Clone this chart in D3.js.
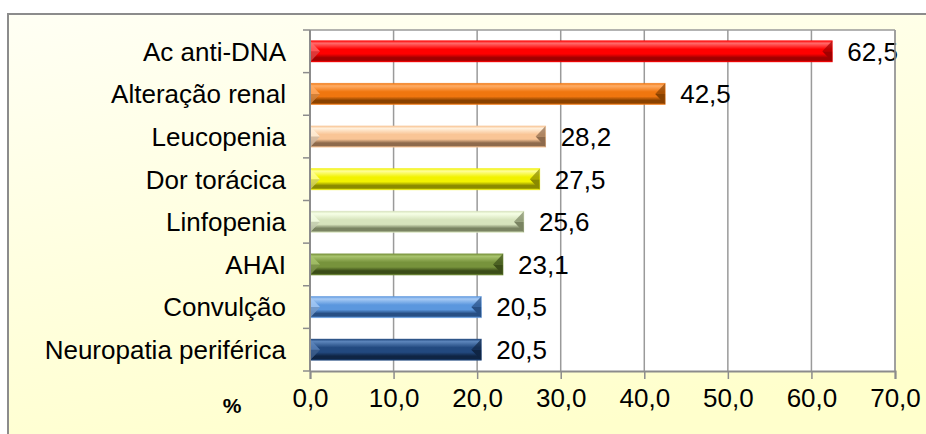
<!DOCTYPE html>
<html>
<head>
<meta charset="utf-8">
<script src="https://cdn.jsdelivr.net/npm/d3@7"></script>
<style>
  html, body { margin: 0; padding: 0; background: #ffffff; }
  svg { display: block; font-family: "Liberation Sans", Arial, sans-serif; }
</style>
</head>
<body>
<svg id="chart" width="926" height="434"></svg>
<script>
// Frequência das manifestações (%)
const categories = ["Ac anti-DNA", "Alteração renal", "Leucopenia", "Dor torácica",
                    "Linfopenia", "AHAI", "Convulção", "Neuropatia periférica"];
const values = [62.5, 42.5, 28.2, 27.5, 25.6, 23.1, 20.5, 20.5];
const tickValues = [0, 10, 20, 30, 40, 50, 60, 70];
const axisTitle = "%";

// Bar palette: [light, base, dark]
const palette = [
  ["#ff6b6b", "#ff0000", "#a00000"],
  ["#ffad66", "#f0760f", "#8a4200"],
  ["#fff0dc", "#f9c596", "#8e6a4c"],
  ["#ffff9a", "#f2f200", "#8a8a00"],
  ["#f6ffe6", "#d7e4bd", "#7a8462"],
  ["#a9c46e", "#77933c", "#3b4d18"],
  ["#a8cbf5", "#5b97de", "#274f84"],
  ["#5c85bb", "#22497f", "#0f2544"]
];

const svg = d3.select("#chart");
const W = 926, H = 434;
const plot = { left: 310, right: 895, top: 30, bottom: 371 };

const defs = svg.append("defs");
const bg = defs.append("linearGradient").attr("id", "bgGrad")
  .attr("x1", 0).attr("y1", 0).attr("x2", 0.35).attr("y2", 1);
bg.append("stop").attr("offset", 0).attr("stop-color", "#fffff4");
bg.append("stop").attr("offset", 1).attr("stop-color", "#ffffcc");

// Outer frame
svg.append("rect").attr("x", 8).attr("y", 14).attr("width", W + 20).attr("height", H + 20)
  .attr("fill", "url(#bgGrad)").attr("stroke", "#8c8c8c").attr("stroke-width", 2);

const x = d3.scaleLinear().domain([0, 70]).range([plot.left, plot.right]);
const y = d3.scaleBand().domain(categories).range([plot.top, plot.bottom]).paddingInner(0.5).paddingOuter(0.25);
const yOuter = d3.scaleBand().domain(categories).range([plot.top, plot.bottom]);

// Plot area
svg.append("rect").attr("x", plot.left).attr("y", plot.top)
  .attr("width", plot.right - plot.left).attr("height", plot.bottom - plot.top)
  .attr("fill", "#ffffff");

// Vertical gridlines
svg.append("g").selectAll("line").data(tickValues.slice(1)).join("line")
  .attr("x1", d => x(d)).attr("x2", d => x(d))
  .attr("y1", plot.top).attr("y2", plot.bottom)
  .attr("stroke", "#9a9a9a").attr("stroke-width", 1.5);

svg.append("line").attr("x1", plot.left).attr("x2", plot.right)
  .attr("y1", plot.top).attr("y2", plot.top)
  .attr("stroke", "#9a9a9a").attr("stroke-width", 1.5);

// Bar gradients
palette.forEach((c, i) => {
  const g = defs.append("linearGradient").attr("id", "barGrad" + i)
    .attr("x1", 0).attr("y1", 0).attr("x2", 0).attr("y2", 1);
  [[0, c[1]], [0.12, c[0]], [0.4, c[1]], [0.62, c[1]], [0.8, c[2]], [0.92, c[2]], [1, c[1]]]
    .forEach(s => g.append("stop").attr("offset", s[0]).attr("stop-color", s[1]));
});

const bars = svg.append("g");
categories.forEach((cat, i) => {
  const x0 = x(0), x1 = x(values[i]);
  const y0 = y(cat), h = y.bandwidth(), y1 = y0 + h, ym = y0 + h / 2;
  const b = 10;
  const c = palette[i];
  bars.append("rect").attr("x", x0).attr("y", y0).attr("width", x1 - x0).attr("height", h)
    .attr("fill", `url(#barGrad${i})`);
  // bevelled ends
  bars.append("polygon")
    .attr("points", `${x0},${y0} ${x0 + b},${ym} ${x0},${y1}`)
    .attr("fill", c[0]).attr("opacity", 0.8);
  bars.append("polygon")
    .attr("points", `${x0},${ym} ${x0 + b},${ym} ${x0},${y1}`)
    .attr("fill", c[2]).attr("opacity", 0.35);
  bars.append("polygon")
    .attr("points", `${x1},${y0} ${x1 - b},${ym} ${x1},${ym}`)
    .attr("fill", c[2]).attr("opacity", 0.7);
  bars.append("polygon")
    .attr("points", `${x1 - b},${ym} ${x1},${ym} ${x1},${y1}`)
    .attr("fill", c[2]).attr("opacity", 1);
  bars.append("rect").attr("x", x0).attr("y", y0).attr("width", x1 - x0).attr("height", h)
    .attr("fill", "none").attr("stroke", c[1]).attr("stroke-opacity", 0.5).attr("stroke-width", 0.8);
});

// Value labels
svg.append("g").selectAll("text").data(values).join("text")
  .attr("x", d => x(d) + 15)
  .attr("y", (d, i) => y(categories[i]) + y.bandwidth() / 2)
  .attr("dy", "0.36em")
  .attr("font-size", 26)
  .attr("fill", "#000")
  .text(d => d3.format(".1f")(d).replace(".", ","));

// Plot border right
svg.append("line").attr("x1", plot.right).attr("x2", plot.right)
  .attr("y1", plot.top).attr("y2", plot.bottom)
  .attr("stroke", "#9a9a9a").attr("stroke-width", 1.5);

// Left axis with ticks at category boundaries
const leftAxis = svg.append("g");
leftAxis.append("line").attr("x1", plot.left).attr("x2", plot.left)
  .attr("y1", plot.top).attr("y2", plot.bottom)
  .attr("stroke", "#8c8c8c").attr("stroke-width", 2);
const bounds = categories.map(c => yOuter(c)).concat([plot.bottom]);
leftAxis.selectAll("line.tk").data(bounds).join("line").attr("class", "tk")
  .attr("x1", plot.left - 7).attr("x2", plot.left)
  .attr("y1", d => d).attr("y2", d => d)
  .attr("stroke", "#8c8c8c").attr("stroke-width", 1.5);
leftAxis.selectAll("text").data(categories).join("text")
  .attr("x", plot.left - 24)
  .attr("y", d => yOuter(d) + yOuter.bandwidth() / 2)
  .attr("dy", "0.36em")
  .attr("text-anchor", "end")
  .attr("font-size", 26)
  .attr("fill", "#000")
  .text(d => d);

// Bottom axis
const xAxis = d3.axisBottom(x).tickValues(tickValues).tickSize(8).tickPadding(10)
  .tickFormat(d => d3.format(".1f")(d).replace(".", ","));
const gx = svg.append("g").attr("transform", `translate(0,${plot.bottom})`).call(xAxis);
gx.select(".domain").attr("stroke", "#8c8c8c").attr("stroke-width", 2);
gx.selectAll(".tick line").attr("stroke", "#8c8c8c").attr("stroke-width", 1.5);
gx.selectAll(".tick text").attr("font-size", 26).attr("fill", "#000")
  .attr("font-family", "'Liberation Sans', Arial, sans-serif");

svg.append("text").attr("x", 232).attr("y", 405).attr("dy", "0.36em")
  .attr("text-anchor", "middle").attr("font-size", 21).attr("font-weight", "bold")
  .attr("fill", "#000").text(axisTitle);
</script>
</body>
</html>
